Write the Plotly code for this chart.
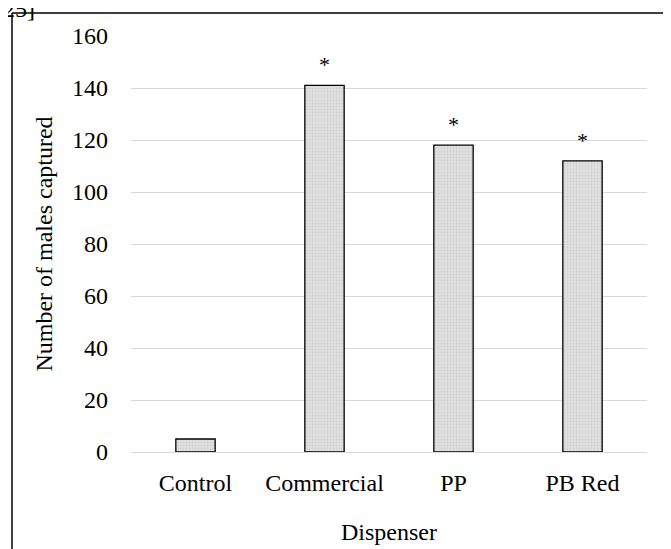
import plotly.graph_objects as go

categories = ["Control", "Commercial", "PP", "PB Red"]
males_captured = [5, 141, 118, 112]
significance = ["", "*", "*", "*"]
y_ticks = [0, 20, 40, 60, 80, 100, 120, 140, 160]

FONT = "Times New Roman, Liberation Serif, Times, serif"

fig = go.Figure()
fig.add_trace(go.Bar(
    x=categories, y=males_captured, width=0.305,
    marker=dict(color="#d9d9d9", line=dict(color="#000000", width=1.3),
                pattern=dict(shape=".", fgcolor="#bdbdbd", bgcolor="#dedede", size=3, solidity=0.2)),
    showlegend=False,
))

for c, v, s in zip(categories, males_captured, significance):
    if s:
        fig.add_annotation(x=c, y=v, text=s, showarrow=False, yanchor="bottom",
                           yshift=6, font=dict(family=FONT, size=22, color="#000"))

fig.add_annotation(xref="paper", yref="paper", x=-0.182, y=1.065, xanchor="right", yanchor="middle",
                   text="[24,25]", showarrow=False, font=dict(family=FONT, size=24, color="#000"))

fig.add_shape(type="line", xref="paper", yref="paper", x0=-0.2306, x1=1.1, y0=1.0553, y1=1.0553,
              line=dict(color="#000", width=1.5))
fig.add_shape(type="line", xref="paper", yref="paper", x0=-0.2306, x1=-0.2306, y0=1.0553, y1=-0.3,
              line=dict(color="#000", width=1.5))

fig.update_layout(
    width=671, height=549,
    margin=dict(l=123, r=32, t=28, b=105, autoexpand=False),
    paper_bgcolor="white", plot_bgcolor="white",
    font=dict(family=FONT, size=24, color="#000"),
)
fig.update_xaxes(showline=False, ticks="", tickfont=dict(family=FONT, size=24), ticklabelstandoff=14,
                 automargin=False,
                 title=dict(text="Dispenser", font=dict(family=FONT, size=24), standoff=28))
fig.update_yaxes(range=[0, 160], tickvals=y_ticks, showgrid=True, gridcolor="#d9d9d9", gridwidth=1,
                 zeroline=True, zerolinecolor="#d9d9d9", zerolinewidth=1, showline=False, automargin=False,
                 ticks="", ticklabelstandoff=22, tickfont=dict(family=FONT, size=24),
                 title=dict(text="Number of males captured", font=dict(family=FONT, size=24), standoff=12))

fig.write_html("out.html")
